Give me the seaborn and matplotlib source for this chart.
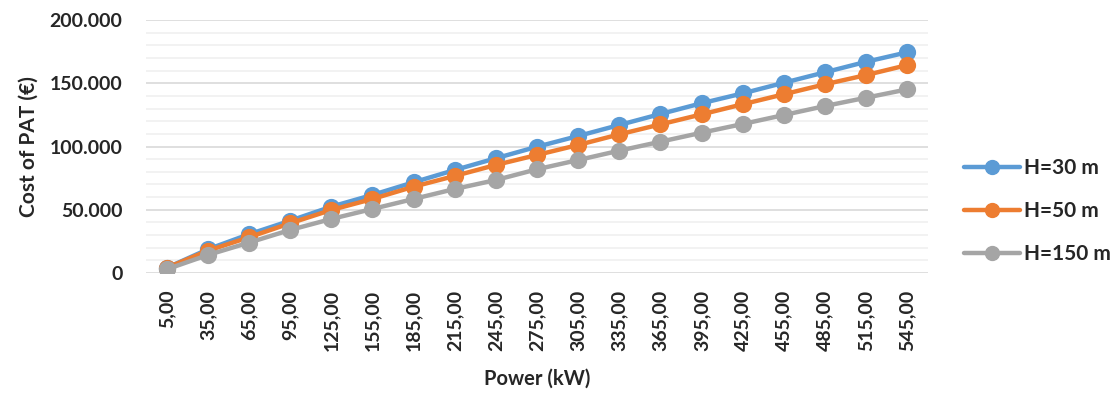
import pandas as pd
import numpy as np
import seaborn as sns
import matplotlib.pyplot as plt
from matplotlib.ticker import MultipleLocator, FuncFormatter
from matplotlib.lines import Line2D

# data
power = [5, 35, 65, 95, 125, 155, 185, 215, 245, 275, 305, 335, 365, 395, 425, 455, 485, 515, 545]
cost_h30 = [4000, 18700, 30600, 41300, 52400, 61700, 71700, 81400, 90700, 99800,
            108300, 117000, 125700, 134200, 142000, 150400, 158700, 167000, 174500]
cost_h50 = [4000, 17600, 28200, 39300, 49800, 58500, 68200, 76700, 85400, 93300,
            101200, 109600, 117500, 125400, 133400, 141300, 149200, 156500, 164400]
cost_h150 = [2900, 14200, 24000, 34000, 42700, 50600, 58500, 66400, 73500, 82000,
             89300, 96700, 103800, 110900, 117800, 124900, 132000, 138600, 145200]
series_names = ['H=30 m', 'H=50 m', 'H=150 m']
colors = ['#5b9bd5', '#ed7d31', '#a5a5a5']

power_labels = [f'{p:.2f}'.replace('.', ',') for p in power]
df = pd.DataFrame({
    'Power': power_labels * 3,
    'Cost': cost_h30 + cost_h50 + cost_h150,
    'Series': [s for s in series_names for _ in power],
})

sns.set_style('white')
plt.rcParams['font.family'] = ['Lato', 'DejaVu Sans']

fig = plt.figure(figsize=(11.19, 3.96), dpi=100)
ax = fig.add_axes([146 / 1119, 1 - 273 / 396, (928 - 146) / 1119, (273 - 20) / 396])

sns.pointplot(data=df, x='Power', y='Cost', hue='Series', palette=colors,
              markers='o', linestyles='-', errorbar=None, ax=ax,
              markersize=10, linewidth=3.2, legend=False)

ax.set_ylim(0, 200000)
ax.set_xlim(-0.5, len(power) - 0.5)
ax.yaxis.set_major_locator(MultipleLocator(50000))
ax.yaxis.set_minor_locator(MultipleLocator(10000))
ax.yaxis.set_major_formatter(FuncFormatter(lambda v, p: f'{int(v):,}'.replace(',', '.')))
ax.grid(axis='y', which='major', color='#d9d9d9', linewidth=1.2, zorder=0)
ax.grid(axis='y', which='minor', color='#f0f0f0', linewidth=1.2, zorder=0)
ax.set_axisbelow(True)
ax.tick_params(axis='y', which='both', length=0, labelsize=14, pad=17)
ax.tick_params(axis='x', length=0, labelsize=14, rotation=90, pad=12)
for lab in ax.get_xticklabels() + ax.get_yticklabels():
    lab.set_fontweight('bold')
for s in ax.spines.values():
    s.set_visible(False)

ax.set_xlabel('Power (kW)', fontsize=14.5, fontweight='bold', labelpad=13)
ax.set_ylabel('Cost of PAT (€)', fontsize=15, fontweight='bold', labelpad=8)

handles = [Line2D([0], [0], color=c, lw=3.2, marker='o', markersize=10) for c in colors]
fig.legend(handles, series_names, loc='center left', bbox_to_anchor=(964 / 1119, 1 - 211 / 396),
           frameon=False, prop={'weight': 'bold', 'size': 15}, labelspacing=1.1,
           handlelength=2.7, handletextpad=0.2, borderaxespad=0, borderpad=0)

plt.savefig('out.png', dpi=100)
